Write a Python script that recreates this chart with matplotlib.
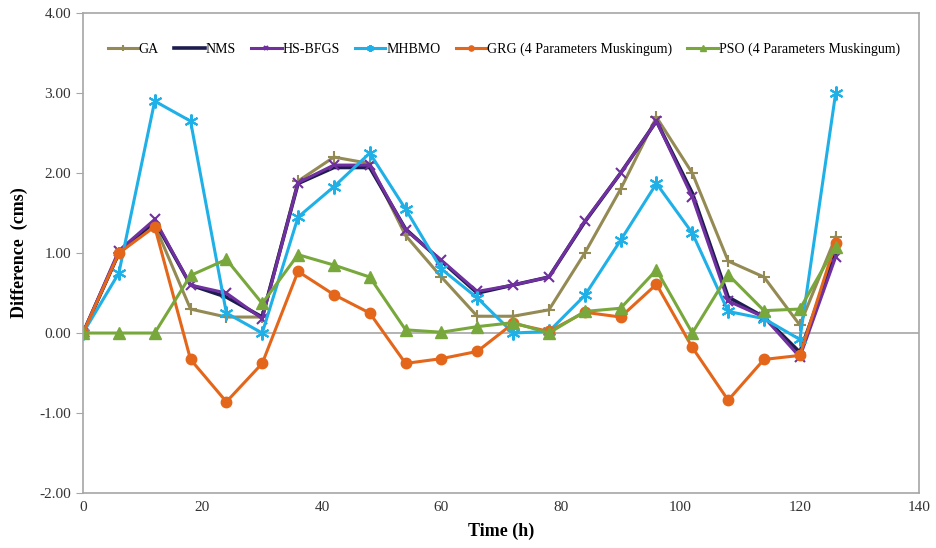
import matplotlib.pyplot as plt
from matplotlib.ticker import FormatStrFormatter

time_h = [0, 6, 12, 18, 24, 30, 36, 42, 48, 54, 60, 66, 72, 78, 84, 90, 96, 102, 108, 114, 120, 126]

ga = [0, 1.0, 1.35, 0.3, 0.2, 0.2, 1.9, 2.2, 2.12, 1.22, 0.7, 0.21, 0.21, 0.29, 1.0, 1.8, 2.7, 2.0, 0.9, 0.7, 0.1, 1.2]
nms = [0, 1.0, 1.4, 0.6, 0.45, 0.2, 1.87, 2.07, 2.07, 1.3, 0.9, 0.5, 0.6, 0.7, 1.39, 2.0, 2.65, 1.75, 0.45, 0.2, -0.24, 1.0]
hs_bfgs = [0, 1.03, 1.42, 0.6, 0.5, 0.18, 1.88, 2.1, 2.1, 1.29, 0.91, 0.52, 0.6, 0.7, 1.4, 2.0, 2.65, 1.7, 0.4, 0.2, -0.3, 0.95]
mhbmo = [0, 0.75, 2.9, 2.65, 0.25, 0.0, 1.45, 1.83, 2.25, 1.55, 0.8, 0.44, 0.0, 0.02, 0.47, 1.16, 1.87, 1.25, 0.27, 0.18, -0.08, 3.0]
grg = [0, 1.0, 1.33, -0.33, -0.86, -0.38, 0.77, 0.48, 0.25, -0.38, -0.32, -0.23, 0.12, 0.02, 0.26, 0.2, 0.61, -0.18, -0.84, -0.33, -0.28, 1.13]
pso = [0, 0, 0, 0.72, 0.92, 0.37, 0.98, 0.85, 0.7, 0.04, 0.01, 0.08, 0.13, 0.0, 0.27, 0.31, 0.79, 0.0, 0.73, 0.28, 0.3, 1.08]

plt.rcParams['font.family'] = ['Liberation Serif', 'DejaVu Serif']

fig = plt.figure(figsize=(9.37, 5.48), dpi=100)
ax = fig.add_axes([0.0886, 0.1004, 0.8925, 0.8756])

grey = '#a6a6a6'
ax.axhline(0, color=grey, lw=1.2, zorder=1)

ax.plot(time_h, ga, color='#948a54', lw=2.2, marker='+', ms=9, mew=1.5, label='GA')
ax.plot(time_h, nms, color='#1c1c4e', lw=2.6, label='NMS')
ax.plot(time_h, hs_bfgs, color='#7030a0', lw=2.2, marker='x', ms=7, mew=1.5, label='HS-BFGS')
ax.plot(time_h, mhbmo, color='#1fb0e8', lw=2.2, marker=(6, 2, 0), ms=10, mew=1.5, label='MHBMO')
ax.plot(time_h, grg, color='#e4661a', lw=2.2, marker='o', ms=7.5, label='GRG (4 Parameters Muskingum)')
ax.plot(time_h, pso, color='#78a83c', lw=2.2, marker='^', ms=8, label='PSO (4 Parameters Muskingum)')

ax.set_xlim(0, 140)
ax.set_ylim(-2, 4)
ax.set_xticks(range(0, 141, 20))
ax.set_yticks(range(-2, 5))
ax.yaxis.set_major_formatter(FormatStrFormatter('%.2f'))
ax.tick_params(axis='x', length=0, labelsize=11, colors='#333333', pad=6)
ax.tick_params(axis='y', length=5, color=grey, labelsize=11, labelcolor='#333333')
for s in ax.spines.values():
    s.set_color(grey)
    s.set_linewidth(1.2)

ax.set_xlabel('Time (h)', fontsize=13, fontweight='bold', labelpad=6)
ax.set_ylabel('Difference  (cms)', fontsize=13, fontweight='bold', labelpad=8)

leg = ax.legend(loc='upper center', bbox_to_anchor=(0.503, 0.965), ncol=6, frameon=False,
                fontsize=10, handlelength=2.2, columnspacing=1.1, handletextpad=0.05,
                markerscale=0.5)

fig.savefig('out.png', dpi=100)
